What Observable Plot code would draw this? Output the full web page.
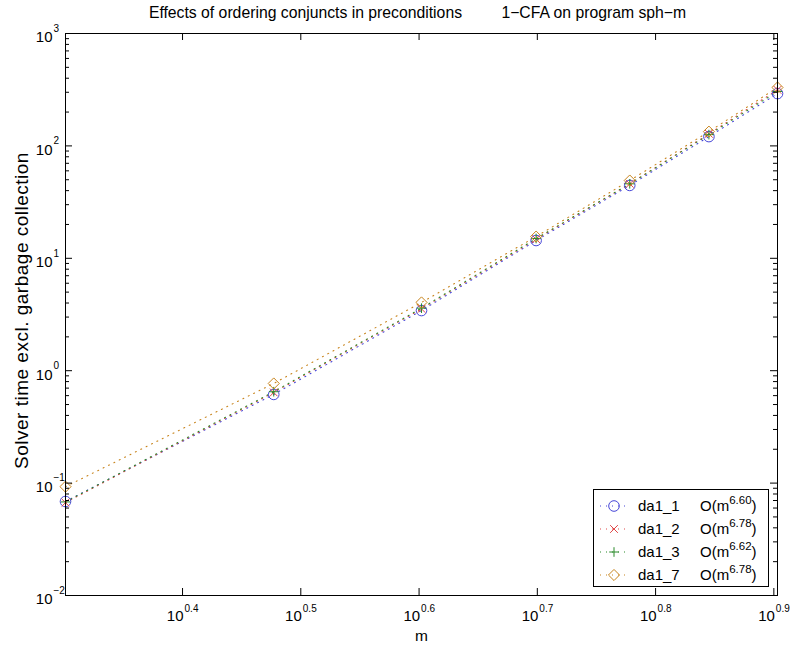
<!DOCTYPE html>
<html>
<head>
<meta charset="utf-8">
<script src="https://cdn.jsdelivr.net/npm/d3@7"></script>
<script src="https://cdn.jsdelivr.net/npm/@observablehq/plot@0.6"></script>
<style>
  body { margin: 0; background: #fff; font-family: "Liberation Sans", Arial, Helvetica, sans-serif; }
  #wrap { position: relative; width: 794px; height: 648px; overflow: hidden; }
  #title { position: absolute; left: 0; top: 4px; width: 835px; text-align: center; font-size: 15.75px; line-height: 17px; white-space: pre; color: #000; }
  #legend { position: absolute; left: 593px; top: 489px; width: 174px; height: 96px; border: 1px solid #000; background: #fff; font-size: 15px; color: #000; }
  .row { position: absolute; left: 0; width: 174px; height: 23px; }
  .row svg { position: absolute; left: 4px; top: 0; }
  .row .name { position: absolute; left: 44px; top: 3px; }
  .row .ord { position: absolute; left: 106px; top: 3px; white-space: nowrap; }
  .row sup { font-size: 11.5px; vertical-align: 0; position: relative; top: -7px; }
</style>
</head>
<body>
<div id="wrap">
  <div id="title"></div>
  <div id="legend"></div>
</div>
<script>
// ---- data ----
const titleLeft = "Effects of ordering conjuncts in preconditions";
const titleRight = "1\u2212CFA on program sph\u2212m";
const xLabel = "m";
const yLabel = "Solver time excl. garbage collection";

const mValues = [2, 3, 4, 5, 6, 7, 8];
const da1_1 = [0.0686, 0.615, 3.43, 14.4, 44.5, 121, 292];
const da1_2 = [0.067, 0.64, 3.55, 14.8, 46.0, 128, 315];
const da1_3 = [0.068, 0.65, 3.60, 15.0, 46.0, 126, 305];
const da1_7 = [0.093, 0.77, 4.05, 15.6, 49.2, 134, 331];

const seriesNames = ["da1_1", "da1_2", "da1_3", "da1_7"];
const seriesValues = [da1_1, da1_2, da1_3, da1_7];
const seriesOrders = ["6.60", "6.78", "6.62", "6.78"];
const seriesColors = ["#4646d8", "#e04848", "#2a8a2a", "#c8841c"];
const seriesSymbols = ["circle", "times", "plus", "diamond2"];
const seriesRadii = [5.3, 3.6, 3.2, 5.0];

const xTickExponents = ["0.4", "0.5", "0.6", "0.7", "0.8", "0.9"];
const yTickExponents = ["-2", "-1", "0", "1", "2", "3"];
const yMinorMantissas = [2, 3, 4, 5, 6, 7, 8, 9];

// ---- layout ----
const W = 794, H = 648;
const mL = 65, mR = 17, mT = 33, mB = 53;
const plotW = W - mL - mR, plotH = H - mT - mB;
const font = '"Liberation Sans", Arial, Helvetica, sans-serif';
const fs = 15, fsSup = 10, fsYLabel = 19;

// ---- derived tables ----
const rows = [];
seriesNames.forEach((s, i) => mValues.forEach((m, j) => rows.push({series: s, m, t: seriesValues[i][j]})));
const xTicks = xTickExponents.map(e => Math.pow(10, +e));
const yMajor = yTickExponents.map(e => Math.pow(10, +e));
const yMinor = [];
yTickExponents.slice(0, -1).forEach(e => yMinorMantissas.forEach(k => yMinor.push(k * Math.pow(10, +e))));
const minus = s => s.replace("-", "\u2212");

const marks = [];
// series
seriesNames.forEach((s, i) => {
  const d = rows.filter(r => r.series === s);
  marks.push(Plot.line(d, {x: "m", y: "t", stroke: seriesColors[i], strokeWidth: 1.1, strokeDasharray: "1,5"}));
});
seriesNames.forEach((s, i) => {
  const d = rows.filter(r => r.series === s);
  marks.push(Plot.dot(d, {x: "m", y: "t", symbol: seriesSymbols[i], r: seriesRadii[i], stroke: seriesColors[i], fill: "none", strokeWidth: 1}));
});
// frame and ticks (inward, on all sides)
marks.push(Plot.frame({stroke: "#000", strokeWidth: 1}));
marks.push(Plot.tickX(xTicks, {x: d => d, stroke: "#000", insetTop: plotH - 7}));
marks.push(Plot.tickX(xTicks, {x: d => d, stroke: "#000", insetBottom: plotH - 7}));
marks.push(Plot.tickY(yMajor, {y: d => d, stroke: "#000", insetRight: plotW - 7}));
marks.push(Plot.tickY(yMajor, {y: d => d, stroke: "#000", insetLeft: plotW - 7}));
marks.push(Plot.tickY(yMinor, {y: d => d, stroke: "#000", insetRight: plotW - 4}));
marks.push(Plot.tickY(yMinor, {y: d => d, stroke: "#000", insetLeft: plotW - 4}));
// tick labels: 10^e
marks.push(Plot.text(xTicks, {x: d => d, frameAnchor: "bottom", lineAnchor: "bottom", text: () => "10", textAnchor: "end", dx: 1, dy: 25, fontSize: fs}));
marks.push(Plot.text(xTicks, {x: d => d, frameAnchor: "bottom", lineAnchor: "bottom", text: (d, i) => xTickExponents[i], textAnchor: "start", dx: 2, dy: 16, fontSize: fsSup}));
marks.push(Plot.text(yMajor, {y: d => d, frameAnchor: "left", lineAnchor: "middle", text: () => "10", textAnchor: "end", dx: -13, dy: 4, fontSize: fs}));
marks.push(Plot.text(yMajor, {y: d => d, frameAnchor: "left", lineAnchor: "middle", text: (d, i) => minus(yTickExponents[i]), textAnchor: "start", dx: -12, dy: -5, fontSize: fsSup}));
// axis labels
marks.push(Plot.text([yLabel], {frameAnchor: "left", text: d => d, rotate: -90, textAnchor: "middle", lineAnchor: "middle", dx: -44, dy: -4, fontSize: fsYLabel}));
marks.push(Plot.text([xLabel], {frameAnchor: "bottom", text: d => d, textAnchor: "middle", lineAnchor: "bottom", dy: 45, fontSize: 15.5}));

const chart = Plot.plot({
  width: W, height: H,
  marginLeft: mL, marginRight: mR, marginTop: mT, marginBottom: mB,
  x: {type: "log", domain: [2, 8], axis: null},
  y: {type: "log", domain: [0.01, 1000], axis: null},
  style: {fontFamily: font, fontSize: fs + "px", background: "#fff", color: "#000", overflow: "visible"},
  marks
});
document.getElementById("wrap").appendChild(chart);
d3.select(chart).selectAll("text").filter(function() { return this.textContent === yLabel; })
  .attr("letter-spacing", "0.5px");

// title
document.getElementById("title").textContent = titleLeft + "         " + titleRight;

// legend
const legend = document.getElementById("legend");
const symMap = {circle: d3.symbolCircle, times: d3.symbolTimes, plus: d3.symbolPlus, diamond2: d3.symbolDiamond2};
seriesNames.forEach((s, i) => {
  const row = document.createElement("div");
  row.className = "row";
  row.style.top = (4 + i * 23) + "px";
  const ns = "http://www.w3.org/2000/svg";
  const svg = document.createElementNS(ns, "svg");
  svg.setAttribute("width", 34); svg.setAttribute("height", 23);
  const line = document.createElementNS(ns, "line");
  line.setAttribute("x1", 2); line.setAttribute("x2", 30); line.setAttribute("y1", 12); line.setAttribute("y2", 12);
  line.setAttribute("stroke", seriesColors[i]); line.setAttribute("stroke-width", 1.1); line.setAttribute("stroke-dasharray", "1,5");
  svg.appendChild(line);
  const p = document.createElementNS(ns, "path");
  const r = seriesRadii[i];
  p.setAttribute("d", d3.symbol(symMap[seriesSymbols[i]], Math.PI * r * r)());
  p.setAttribute("transform", "translate(16,12)");
  p.setAttribute("fill", "none"); p.setAttribute("stroke", seriesColors[i]);
  svg.appendChild(p);
  row.appendChild(svg);
  const name = document.createElement("span"); name.className = "name"; name.textContent = s; row.appendChild(name);
  const ord = document.createElement("span"); ord.className = "ord";
  ord.innerHTML = "O(m<sup>" + seriesOrders[i] + "</sup>)";
  row.appendChild(ord);
  legend.appendChild(row);
});
</script>
</body>
</html>
